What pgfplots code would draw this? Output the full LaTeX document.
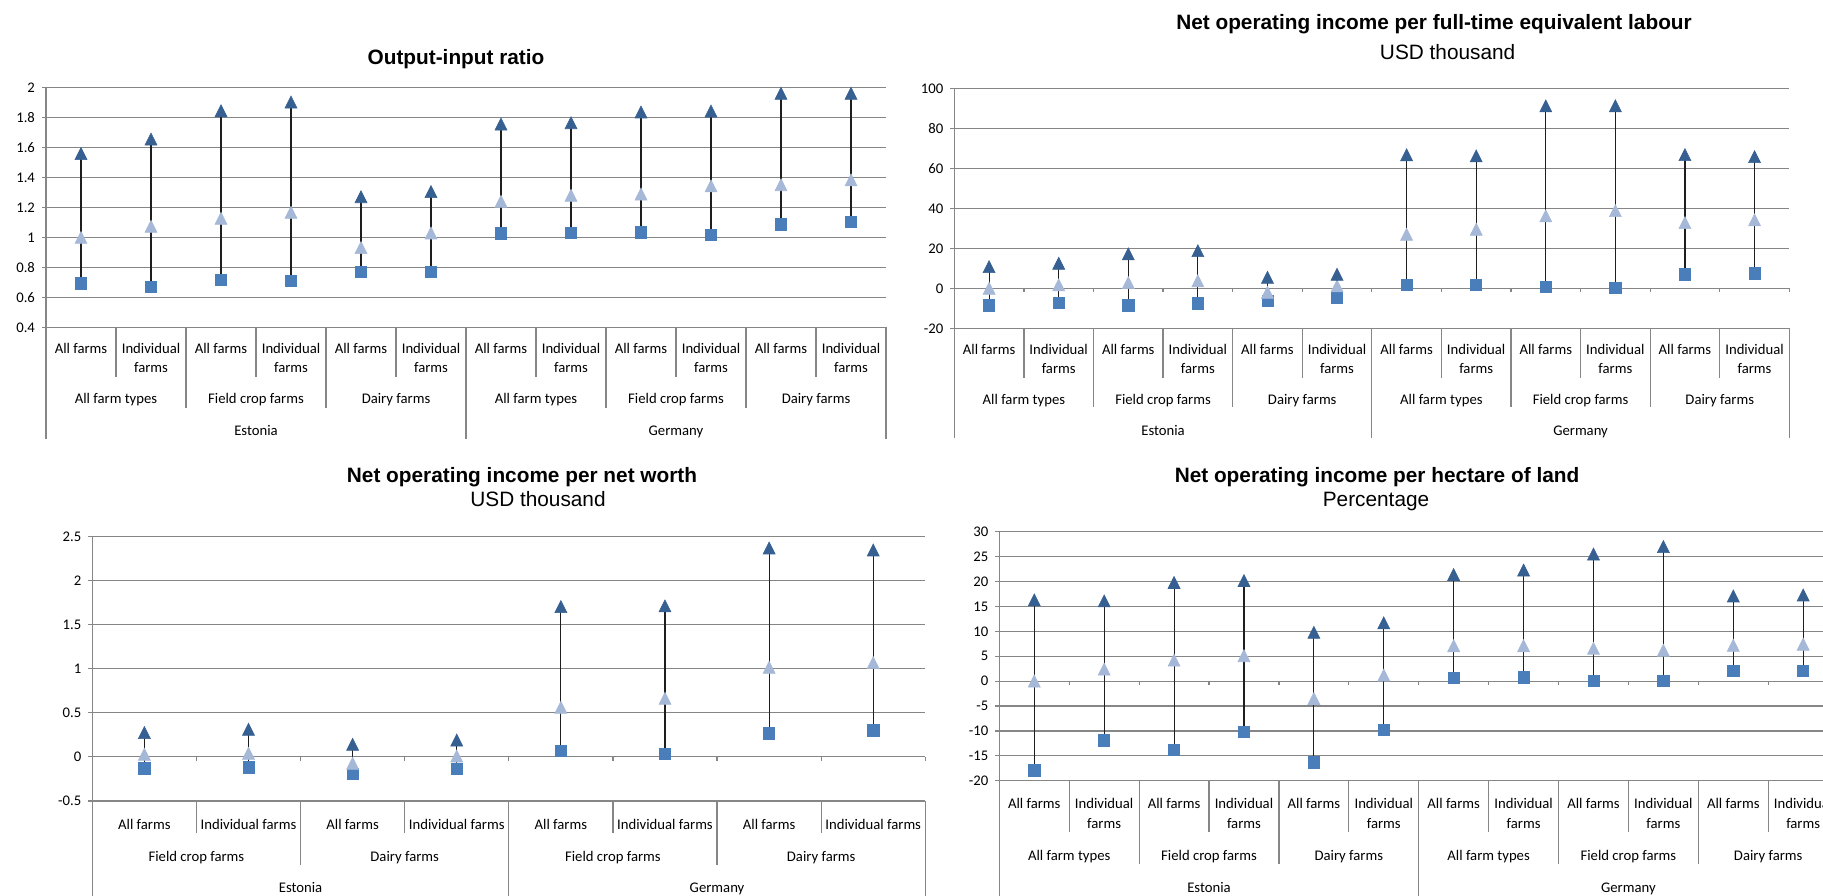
\documentclass[border=0pt]{standalone}
\usepackage{fontspec}
\setmainfont{Carlito}
\newfontfamily\arialf{Liberation Sans}
\usepackage{pgfplots}
\usepackage{pgfplotstable}
\pgfplotsset{compat=1.18}

\definecolor{gridc}{RGB}{134,134,134}
\definecolor{darktri}{RGB}{55,96,146}
\definecolor{lighttri}{RGB}{166,184,216}
\definecolor{sqc}{RGB}{74,126,187}
\definecolor{linec}{RGB}{30,30,30}

\newcommand\ticksize{\fontsize{7.35}{8.5}\selectfont}

\pgfdeclareplotmark{xtri}{%
  \pgfpathmoveto{\pgfqpoint{0pt}{\pgfplotmarksize}}%
  \pgfpathlineto{\pgfqpoint{-\pgfplotmarksize}{-\pgfplotmarksize}}%
  \pgfpathlineto{\pgfqpoint{\pgfplotmarksize}{-\pgfplotmarksize}}%
  \pgfpathclose
  \pgfusepathqfillstroke}

\pgfplotstableread{
x lo mid hi
0 0.694 1.000 1.560
1 0.669 1.074 1.657
2 0.716 1.128 1.846
3 0.709 1.168 1.904
4 0.772 0.932 1.272
5 0.769 1.030 1.306
6 1.028 1.241 1.757
7 1.032 1.281 1.766
8 1.034 1.290 1.838
9 1.016 1.344 1.844
10 1.088 1.352 1.962
11 1.103 1.384 1.962
}\tabA

\pgfplotstableread{
x lo mid hi
0 -8.5 0.0 10.8
1 -7.2 1.7 12.5
2 -8.5 2.8 17.2
3 -7.5 3.7 18.8
4 -6.3 -2.0 5.5
5 -4.7 1.2 7.0
6 1.7 27.0 66.7
7 1.8 29.5 66.2
8 0.8 36.2 91.2
9 0.3 38.8 91.2
10 7.0 32.8 66.8
11 7.5 34.2 65.8
}\tabB

\pgfplotstableread{
x lo mid hi
0 -0.130 0.029 0.275
1 -0.118 0.040 0.312
2 -0.194 -0.073 0.142
3 -0.137 0.010 0.191
4 0.067 0.562 1.703
5 0.033 0.664 1.711
6 0.267 1.015 2.368
7 0.301 1.068 2.345
}\tabC

\pgfplotstableread{
x lo mid hi
0 -17.9 0.0 16.3
1 -11.9 2.4 16.1
2 -13.8 4.2 19.8
3 -10.2 5.1 20.2
4 -16.3 -3.5 9.8
5 -9.7 1.2 11.7
6 0.7 7.1 21.4
7 0.75 7.1 22.3
8 0.1 6.6 25.5
9 0.1 6.2 27.0
10 2.0 7.2 17.1
11 2.1 7.4 17.3
}\tabD

\newcommand\plotset[1]{%
  \addplot[draw=none, mark=none, forget plot, error bars/.cd, y dir=minus, y explicit,
    error mark=none, error bar style={draw=linec, solid, line width=0.55pt}]
    table[x=x, y=hi, y error expr=\thisrow{hi}-\thisrow{lo}] {#1};
  \addplot[only marks, mark=square*, mark size=2.8pt,
    mark options={fill=sqc, draw=sqc, line width=0.3pt}] table[x=x, y=lo] {#1};
  \addplot[only marks, mark=xtri, mark size=3pt,
    mark options={fill=lighttri, draw=lighttri, line width=0.3pt}] table[x=x, y=mid] {#1};
  \addplot[only marks, mark=xtri, mark size=3pt,
    mark options={fill=darktri, draw=darktri, line width=0.3pt}] table[x=x, y=hi] {#1};
}

% separator: x, y, length
\newcommand\sep[3]{\draw[gridc, line width=0.6pt] (axis cs:#1,#2) -- ++(0pt,-#3);}
% zero tick
\newcommand\ztick[1]{\draw[gridc, line width=0.6pt] (axis cs:#1,0) -- ++(0pt,-2pt);}
% label: x, y, shift, text
\newcommand\lab[4]{\node[font=\ticksize, anchor=base, inner sep=0pt, yshift=-#3] at (axis cs:#1,#2) {#4};}

\pgfplotsset{
  panel/.style={
    scale only axis, anchor=south west,
    xmin=-0.5, xmax=11.5,
    axis x line*=bottom, axis y line*=left,
    axis line style={draw=gridc, line width=0.6pt},
    xtick=\empty,
    ymajorgrids, grid style={draw=gridc, line width=0.6pt},
    tick align=outside, major tick length=2pt,
    ytick style={draw=gridc, line width=0.6pt},
    yticklabel style={font=\ticksize, text=black},
    /pgf/number format/assume math mode=true,
    clip=false,
  }
}

\begin{document}
\begin{tikzpicture}
\useasboundingbox (0,0) rectangle (911.5pt,447.5pt);
\clip (0,0) rectangle (911.5pt,447.5pt);

% titles
\node[font=\arialf\bfseries\fontsize{10.4}{12}\selectfont, anchor=base, inner sep=0pt] at (228pt,415pt) {Output-input ratio};
\node[font=\arialf\bfseries\fontsize{10.4}{12}\selectfont, anchor=base, inner sep=0pt] at (717pt,432.5pt) {Net operating income per full-time equivalent labour};
\node[font=\arialf\fontsize{10.4}{12}\selectfont, anchor=base, inner sep=0pt] at (723.8pt,417.85pt) {USD thousand};
\node[font=\arialf\bfseries\fontsize{10.4}{12}\selectfont, anchor=base, inner sep=0pt] at (261pt,206.15pt) {Net operating income per net worth};
\node[font=\arialf\fontsize{10.4}{12}\selectfont, anchor=base, inner sep=0pt] at (269pt,194.15pt) {USD thousand};
\node[font=\arialf\bfseries\fontsize{10.4}{12}\selectfont, anchor=base, inner sep=0pt] at (688.5pt,206.15pt) {Net operating income per hectare of land};
\node[font=\arialf\fontsize{10.4}{12}\selectfont, anchor=base, inner sep=0pt] at (688pt,194.15pt) {Percentage};

% ---------------- Panel 1
\begin{axis}[panel, at={(23pt,283.85pt)}, width=420pt, height=119.8pt,
  ymin=0.4, ymax=2, ytick={0.4,0.6,0.8,1,1.2,1.4,1.6,1.8,2},
  yticklabels={0.4,0.6,0.8,1,1.2,1.4,1.6,1.8,2}]
\plotset{\tabA}
\sep{0.5}{0.4}{25pt}\sep{2.5}{0.4}{25pt}\sep{4.5}{0.4}{25pt}\sep{6.5}{0.4}{25pt}\sep{8.5}{0.4}{25pt}\sep{10.5}{0.4}{25pt}
\sep{1.5}{0.4}{40.5pt}\sep{3.5}{0.4}{40.5pt}\sep{7.5}{0.4}{40.5pt}\sep{9.5}{0.4}{40.5pt}
\sep{-0.5}{0.4}{56pt}\sep{5.5}{0.4}{56pt}\sep{11.5}{0.4}{56pt}
\lab{0}{0.4}{13.35pt}{All farms}\lab{2}{0.4}{13.35pt}{All farms}\lab{4}{0.4}{13.35pt}{All farms}
\lab{6}{0.4}{13.35pt}{All farms}\lab{8}{0.4}{13.35pt}{All farms}\lab{10}{0.4}{13.35pt}{All farms}
\lab{1}{0.4}{13.35pt}{Individual}\lab{3}{0.4}{13.35pt}{Individual}\lab{5}{0.4}{13.35pt}{Individual}
\lab{7}{0.4}{13.35pt}{Individual}\lab{9}{0.4}{13.35pt}{Individual}\lab{11}{0.4}{13.35pt}{Individual}
\lab{1}{0.4}{22.85pt}{farms}\lab{3}{0.4}{22.85pt}{farms}\lab{5}{0.4}{22.85pt}{farms}
\lab{7}{0.4}{22.85pt}{farms}\lab{9}{0.4}{22.85pt}{farms}\lab{11}{0.4}{22.85pt}{farms}
\lab{0.5}{0.4}{38.35pt}{All farm types}\lab{2.5}{0.4}{38.35pt}{Field crop farms}\lab{4.5}{0.4}{38.35pt}{Dairy farms}
\lab{6.5}{0.4}{38.35pt}{All farm types}\lab{8.5}{0.4}{38.35pt}{Field crop farms}\lab{10.5}{0.4}{38.35pt}{Dairy farms}
\lab{2.5}{0.4}{53.85pt}{Estonia}\lab{8.5}{0.4}{53.85pt}{Germany}
\end{axis}

% ---------------- Panel 2
\begin{axis}[panel, at={(477.15pt,283.35pt)}, width=417.5pt, height=120pt,
  ymin=-20, ymax=100, ytick={-20,0,20,40,60,80,100},
  yticklabels={-20,0,20,40,60,80,100}]
\plotset{\tabB}
\ztick{0.5}\ztick{1.5}\ztick{2.5}\ztick{3.5}\ztick{4.5}\ztick{5.5}\ztick{6.5}\ztick{7.5}\ztick{8.5}\ztick{9.5}\ztick{10.5}\ztick{11.5}
\sep{0.5}{-20}{25pt}\sep{2.5}{-20}{25pt}\sep{4.5}{-20}{25pt}\sep{6.5}{-20}{25pt}\sep{8.5}{-20}{25pt}\sep{10.5}{-20}{25pt}
\sep{1.5}{-20}{39.5pt}\sep{3.5}{-20}{39.5pt}\sep{7.5}{-20}{39.5pt}\sep{9.5}{-20}{39.5pt}
\sep{-0.5}{-20}{55pt}\sep{5.5}{-20}{55pt}\sep{11.5}{-20}{55pt}
\lab{0}{-20}{12.85pt}{All farms}\lab{2}{-20}{12.85pt}{All farms}\lab{4}{-20}{12.85pt}{All farms}
\lab{6}{-20}{12.85pt}{All farms}\lab{8}{-20}{12.85pt}{All farms}\lab{10}{-20}{12.85pt}{All farms}
\lab{1}{-20}{12.85pt}{Individual}\lab{3}{-20}{12.85pt}{Individual}\lab{5}{-20}{12.85pt}{Individual}
\lab{7}{-20}{12.85pt}{Individual}\lab{9}{-20}{12.85pt}{Individual}\lab{11}{-20}{12.85pt}{Individual}
\lab{1}{-20}{22.5pt}{farms}\lab{3}{-20}{22.5pt}{farms}\lab{5}{-20}{22.5pt}{farms}
\lab{7}{-20}{22.5pt}{farms}\lab{9}{-20}{22.5pt}{farms}\lab{11}{-20}{22.5pt}{farms}
\lab{0.5}{-20}{37.85pt}{All farm types}\lab{2.5}{-20}{37.85pt}{Field crop farms}\lab{4.5}{-20}{37.85pt}{Dairy farms}
\lab{6.5}{-20}{37.85pt}{All farm types}\lab{8.5}{-20}{37.85pt}{Field crop farms}\lab{10.5}{-20}{37.85pt}{Dairy farms}
\lab{2.5}{-20}{53.35pt}{Estonia}\lab{8.5}{-20}{53.35pt}{Germany}
\end{axis}

% ---------------- Panel 3
\begin{axis}[panel, at={(46.15pt,47pt)}, width=416.5pt, height=132.35pt,
  xmin=-0.5, xmax=7.5,
  ymin=-0.5, ymax=2.5, ytick={-0.5,0,0.5,1,1.5,2,2.5},
  yticklabels={-0.5,0,0.5,1,1.5,2,2.5}]
\plotset{\tabC}
\ztick{0.5}\ztick{1.5}\ztick{2.5}\ztick{3.5}\ztick{4.5}\ztick{5.5}\ztick{6.5}\ztick{7.5}
\sep{0.5}{-0.5}{16pt}\sep{2.5}{-0.5}{16pt}\sep{4.5}{-0.5}{16pt}\sep{6.5}{-0.5}{16pt}
\sep{1.5}{-0.5}{32pt}\sep{5.5}{-0.5}{32pt}
\sep{-0.5}{-0.5}{52pt}\sep{3.5}{-0.5}{52pt}\sep{7.5}{-0.5}{52pt}
\lab{0}{-0.5}{14pt}{All farms}\lab{2}{-0.5}{14pt}{All farms}\lab{4}{-0.5}{14pt}{All farms}\lab{6}{-0.5}{14pt}{All farms}
\lab{1}{-0.5}{14pt}{Individual farms}\lab{3}{-0.5}{14pt}{Individual farms}\lab{5}{-0.5}{14pt}{Individual farms}\lab{7}{-0.5}{14pt}{Individual farms}
\lab{0.5}{-0.5}{30pt}{Field crop farms}\lab{2.5}{-0.5}{30pt}{Dairy farms}
\lab{4.5}{-0.5}{30pt}{Field crop farms}\lab{6.5}{-0.5}{30pt}{Dairy farms}
\lab{1.5}{-0.5}{45.5pt}{Estonia}\lab{5.5}{-0.5}{45.5pt}{Germany}
\end{axis}

% ---------------- Panel 4
\begin{axis}[panel, at={(499.65pt,57.15pt)}, width=419.4pt, height=124.5pt,
  ymin=-20, ymax=30, ytick={-20,-15,-10,-5,0,5,10,15,20,25,30},
  yticklabels={-20,-15,-10,-5,0,5,10,15,20,25,30}]
\plotset{\tabD}
\ztick{0.5}\ztick{1.5}\ztick{2.5}\ztick{3.5}\ztick{4.5}\ztick{5.5}\ztick{6.5}\ztick{7.5}\ztick{8.5}\ztick{9.5}\ztick{10.5}\ztick{11.5}
\sep{0.5}{-20}{25.85pt}\sep{2.5}{-20}{25.85pt}\sep{4.5}{-20}{25.85pt}\sep{6.5}{-20}{25.85pt}\sep{8.5}{-20}{25.85pt}\sep{10.5}{-20}{25.85pt}
\sep{1.5}{-20}{41.65pt}\sep{3.5}{-20}{41.65pt}\sep{7.5}{-20}{41.65pt}\sep{9.5}{-20}{41.65pt}
\sep{-0.5}{-20}{62pt}\sep{5.5}{-20}{62pt}\sep{11.5}{-20}{62pt}
\lab{0}{-20}{13.8pt}{All farms}\lab{2}{-20}{13.8pt}{All farms}\lab{4}{-20}{13.8pt}{All farms}
\lab{6}{-20}{13.8pt}{All farms}\lab{8}{-20}{13.8pt}{All farms}\lab{10}{-20}{13.8pt}{All farms}
\lab{1}{-20}{13.8pt}{Individual}\lab{3}{-20}{13.8pt}{Individual}\lab{5}{-20}{13.8pt}{Individual}
\lab{7}{-20}{13.8pt}{Individual}\lab{9}{-20}{13.8pt}{Individual}\lab{11}{-20}{13.8pt}{Individual}
\lab{1}{-20}{23.8pt}{farms}\lab{3}{-20}{23.8pt}{farms}\lab{5}{-20}{23.8pt}{farms}
\lab{7}{-20}{23.8pt}{farms}\lab{9}{-20}{23.8pt}{farms}\lab{11}{-20}{23.8pt}{farms}
\lab{0.5}{-20}{39.8pt}{All farm types}\lab{2.5}{-20}{39.8pt}{Field crop farms}\lab{4.5}{-20}{39.8pt}{Dairy farms}
\lab{6.5}{-20}{39.8pt}{All farm types}\lab{8.5}{-20}{39.8pt}{Field crop farms}\lab{10.5}{-20}{39.8pt}{Dairy farms}
\lab{2.5}{-20}{55.65pt}{Estonia}\lab{8.5}{-20}{55.65pt}{Germany}
\end{axis}
\end{tikzpicture}
\end{document}
